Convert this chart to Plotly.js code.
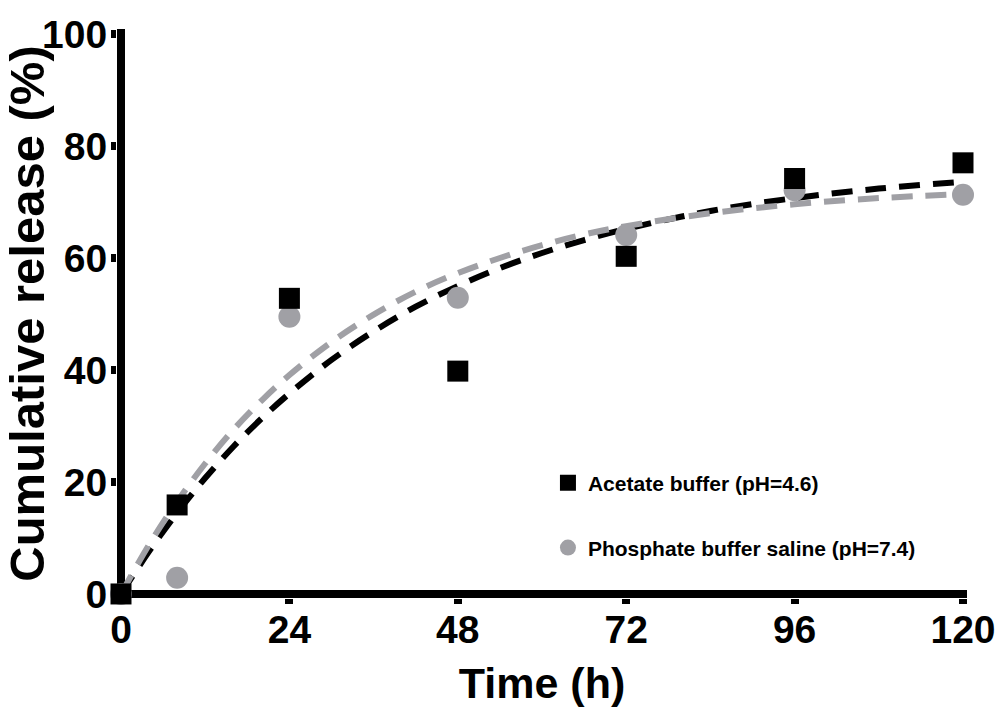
<!DOCTYPE html>
<html>
<head>
<meta charset="utf-8">
<script src="https://cdn.plot.ly/plotly-3.0.1.min.js"></script>
<style>
  html, body { margin: 0; padding: 0; background: #ffffff; }
  #chart { width: 1000px; height: 708px; }
</style>
</head>
<body>
<div id="chart"></div>
<script>
// Measured data points
const timePoints = [0, 8, 24, 48, 72, 96, 120];
const acetateRelease = [0, 15.9, 52.8, 39.8, 60.3, 74.2, 77.0];
const phosphateRelease = [0, 2.9, 49.5, 52.9, 64.1, 72.1, 71.3];

// Fitted (dashed) curves
const fitTime = [0, 4, 8, 12, 16, 20, 24, 30, 36, 42, 48, 54, 60, 66, 72, 84, 96, 108, 120];
const acetateFit = [0, 7.6, 14.5, 20.7, 26.3, 31.3, 35.8, 41.8, 46.9, 51.3, 55.0, 58.2, 60.9, 63.2, 65.2, 68.4, 70.7, 72.4, 73.6];
const phosphateFit = [0, 8.8, 16.5, 23.3, 29.3, 34.5, 39.1, 45.0, 49.9, 54.0, 57.3, 60.0, 62.3, 64.2, 65.7, 68.0, 69.6, 70.7, 71.4];

const xTicks = [0, 24, 48, 72, 96, 120];
const yTicks = [0, 20, 40, 60, 80, 100];
const seriesNames = ['Acetate buffer (pH=4.6)', 'Phosphate buffer saline (pH=7.4)'];

const BLACK = '#000000';
const GREY = '#a0a0a5';
const FONT = 'Liberation Sans, Arial, Helvetica, sans-serif';

const traces = [
  {
    x: fitTime, y: acetateFit, type: 'scatter', mode: 'lines',
    line: {color: BLACK, width: 6, dash: '21px,13px', shape: 'spline'},
    showlegend: false, hoverinfo: 'skip', cliponaxis: false
  },
  {
    x: fitTime, y: phosphateFit, type: 'scatter', mode: 'lines',
    line: {color: GREY, width: 6, dash: '21px,13px', shape: 'spline'},
    showlegend: false, hoverinfo: 'skip', cliponaxis: false
  },
  {
    x: timePoints, y: phosphateRelease, type: 'scatter', mode: 'markers',
    name: seriesNames[1], legend: 'legend2',
    marker: {symbol: 'circle', size: 22, color: GREY, line: {width: 0}},
    cliponaxis: false
  },
  {
    x: timePoints, y: acetateRelease, type: 'scatter', mode: 'markers',
    name: seriesNames[0], legend: 'legend',
    marker: {symbol: 'square', size: 21, color: BLACK, line: {width: 0}},
    cliponaxis: false
  }
];

const layout = {
  width: 1000, height: 708,
  paper_bgcolor: '#ffffff', plot_bgcolor: '#ffffff',
  margin: {l: 117, r: 33, t: 29, b: 110},
  font: {family: FONT, color: BLACK, weight: 'bold'},
  xaxis: {
    range: [-0.57, 120.57],
    tickvals: xTicks, ticktext: xTicks.map(String),
    ticks: 'outside', ticklen: 5, tickwidth: 8, tickcolor: BLACK,
    ticklabelstandoff: -8,
    showline: false, showgrid: false,
    zeroline: true, zerolinewidth: 8, zerolinecolor: BLACK,
    tickfont: {family: FONT, size: 39, color: BLACK, weight: 'bold'},
    title: {text: 'Time (h)', font: {family: FONT, size: 43, color: BLACK, weight: 'bold'}, standoff: 18},
    fixedrange: true
  },
  yaxis: {
    range: [-0.72, 100.9],
    tickvals: yTicks, ticktext: yTicks.map(String),
    ticks: 'outside', ticklen: 5, tickwidth: 8, tickcolor: BLACK,
    ticklabelstandoff: -4,
    showline: false, showgrid: false,
    zeroline: true, zerolinewidth: 8, zerolinecolor: BLACK,
    tickfont: {family: FONT, size: 39, color: BLACK, weight: 'bold'},
    title: {text: 'Cumulative release (%)', font: {family: FONT, size: 49, color: BLACK, weight: 'bold'}, standoff: 0},
    fixedrange: true
  },
  legend: {
    x: 0.507, y: 0.202, xanchor: 'left', yanchor: 'middle',
    bgcolor: 'rgba(0,0,0,0)', borderwidth: 0,
    font: {family: FONT, size: 21, color: BLACK, weight: 'bold'}
  },
  legend2: {
    x: 0.507, y: 0.088, xanchor: 'left', yanchor: 'middle',
    bgcolor: 'rgba(0,0,0,0)', borderwidth: 0,
    font: {family: FONT, size: 21, color: BLACK, weight: 'bold'}
  },
  showlegend: true
};

Plotly.newPlot('chart', traces, layout, {displayModeBar: false, staticPlot: true});
</script>
</body>
</html>
